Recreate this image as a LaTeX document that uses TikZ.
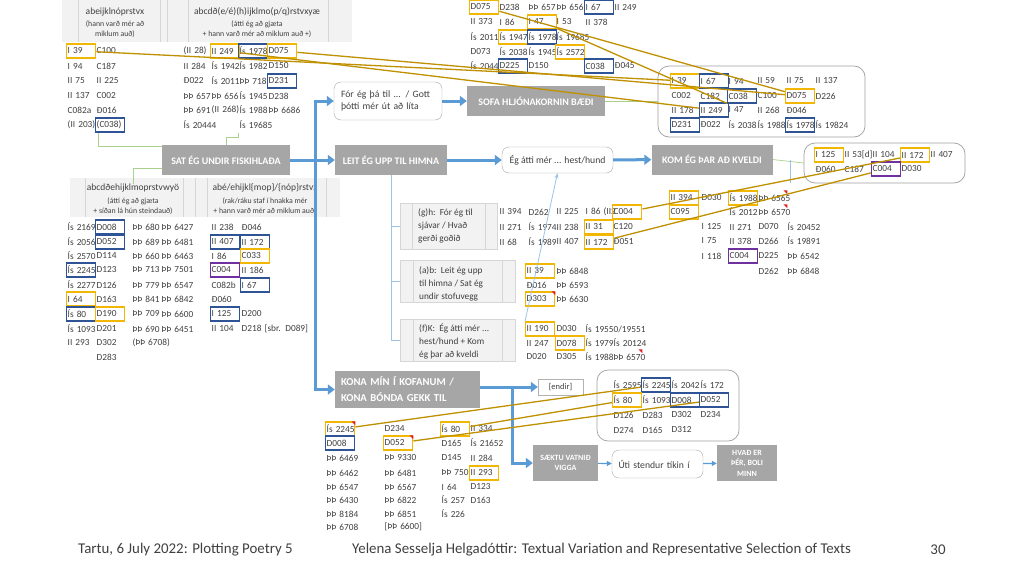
\documentclass[tikz,border=0pt]{standalone}
\usepackage{fontspec}
\setmainfont{Carlito}
\usetikzlibrary{arrows.meta,backgrounds}
\definecolor{txt}{HTML}{404040}
\definecolor{panelfill}{HTML}{F2F2F2}
\definecolor{panelline}{HTML}{D6D6D6}
\definecolor{boxgray}{HTML}{A6A6A6}
\definecolor{goldframe}{HTML}{F2B705}
\definecolor{goldline}{HTML}{BF9000}
\definecolor{navyframe}{HTML}{2F5496}
\definecolor{purpframe}{HTML}{7030A0}
\definecolor{flowblue}{HTML}{5B9BD5}
\definecolor{paleblue}{HTML}{9DC3E6}
\definecolor{palegreen}{HTML}{A9D18E}
\definecolor{markred}{HTML}{E02020}
\newcommand{\cellfont}{\fontsize{9.3}{11}\selectfont}
\newcommand{\datarow}[3]{\foreach \cx/\cs/\ct [count=\ci] in {#3}{\node[cell,\cs] (#1-\ci) at (\cx-2,#2) {\mbox{\ct}};}}
\newcommand{\redmark}[1]{\fill[markred] (#1.north east) -- ++(-4pt,0pt) -- ++(4pt,-4pt) -- cycle;}
\tikzset{
  cell/.style={anchor=west, text width=27pt, align=left, inner xsep=1pt, inner ysep=0pt, minimum height=14pt, font=\cellfont, text=txt, line width=1.4pt},
  cn/.style={}, cg/.style={draw=goldframe}, cb/.style={draw=navyframe}, cp/.style={draw=purpframe},
  flowbox/.style={fill=boxgray, text=white, font=\bfseries\fontsize{10}{12}\selectfont, align=center, inner sep=0pt},
  smallflow/.style={flowbox, font=\bfseries\fontsize{8}{10.5}\selectfont},
  roundbox/.style={draw=gray!70, rounded corners=7pt, fill=white, text=txt, font=\fontsize{9.7}{12}\selectfont, align=left, inner sep=0pt},
  container/.style={draw=gray!75, rounded corners=11pt, line width=0.7pt},
  panelbox/.style={fill=panelfill, draw=panelline, line width=0.6pt},
  panelrule/.style={draw=panelline, line width=0.6pt},
  paneltext/.style={anchor=west, align=left, text=txt, font=\fontsize{9.3}{13}\selectfont, inner sep=0pt},
  hdtitle/.style={text=txt, font=\fontsize{9.5}{11}\selectfont, inner sep=0pt},
  hdsub/.style={text=txt, font=\fontsize{7.8}{9.5}\selectfont, align=center, inner sep=0pt},
  barrow/.style={draw=flowblue, line width=3pt, -{Triangle[length=7pt,width=10pt]}},
  tarrow/.style={draw=flowblue, line width=1.2pt, -{Triangle[length=5pt,width=5pt]}},
  lline/.style={draw=paleblue, line width=0.8pt},
  gline/.style={draw=palegreen, line width=0.7pt},
  goldlink/.style={draw=goldline, line width=1.3pt},
  foot/.style={text=txt, font=\fontsize{14.9}{17}\selectfont, inner sep=0pt}
}
\begin{document}
\begin{tikzpicture}[x=1pt, y=-1pt]
\useasboundingbox (0,0) rectangle (1024,576);
\begin{scope}[on background layer]
\fill[white] (0,0) rectangle (1024,576);
\fill[panelfill] (62,0) rectangle (352,42);
\foreach \px in {78,160,167,188,328} \draw[panelrule] (\px,0) -- (\px,42);
\fill[panelfill] (70,178) rectangle (340,217);
\foreach \px in {85,183,195,207,326} \draw[panelrule] (\px,178) -- (\px,217);
\end{scope}

% table headers
\node[hdtitle] (th1) at (115,12) {abeijklnóprstvx};
\node[hdsub] (ts1) at (115,29) {(hann varð mér að\\miklum auð)};
\node[hdtitle] (th2) at (257,12) {abcdð(e/é)(h)ijklmo(p/q)rstvxyæ};
\node[hdsub] (ts2) at (257,29) {(átti ég að gjæta\\+ hann varð mér að miklum auð +)};
\node[hdtitle] (lh1) at (133,188) {abcdðehijklmoprstvwyö};
\node[hdsub] (ls1) at (133,206) {(átti ég að gjæta\\+ síðan lá hún steindauð)};
\node[hdtitle] (lh2) at (265,188) {abé/ehijkl\{mop\}/\{nóp\}rstvx};
\node[hdsub] (ls2) at (265,206) {(rak/ráku staf í hnakka mér\\+ hann varð mér að miklum auð)};

% top left
\datarow{tla1}{51}{68/cg/I 39, 97/cn/C100}
\datarow{tla2}{66}{68/cn/I 94, 97/cn/C187}
\datarow{tla3}{81}{68/cn/II 75, 97/cn/II 225}
\datarow{tla4}{96}{68/cn/II 137, 97/cn/C002}
\datarow{tla5}{110}{68/cn/C082a, 97/cn/Ð016}
\datarow{tla6}{125}{68/cn/(II 203), 97/cb/(C038)}
\datarow{tlb1}{51}{184/cn/(II 28), 212/cg/II 249, 240/cb/Ís 1978, 269/cg/D075}
\datarow{tlb2}{66}{184/cn/II 284, 212/cn/Ís 1942, 240/cn/Ís 1982, 269/cn/D150}
\datarow{tlb3}{81}{184/cn/Ð022, 212/cn/Ís 2011, 240/cn/ÞÞ 718, 269/cb/D231}
\datarow{tlb4}{96}{184/cn/ÞÞ 657, 212/cn/ÞÞ 656, 240/cn/Ís 1945, 269/cn/D238}
\datarow{tlb5}{110}{184/cn/ÞÞ 691, 212/cn/(II 268), 240/cn/Ís 1988, 269/cn/ÞÞ 6686}
\datarow{tlb6}{125}{184/cn/Ís 20444, 240/cn/Ís 19685}

% top
\datarow{tc1}{7}{471/cg/D075, 500/cn/D238, 529/cn/ÞÞ 657, 557/cn/ÞÞ 656, 586/cb/I 67, 615/cn/II 249}
\datarow{tc2}{22}{471/cn/II 373, 500/cn/I 86, 529/cg/I 47, 557/cn/I 53, 586/cn/II 378}
\datarow{tc3}{37}{471/cn/Ís 2011, 500/cg/Ís 1947, 529/cb/Ís 1978, 557/cn/Ís 19685}
\datarow{tc4}{52}{471/cn/D073, 500/cn/Ís 2038, 529/cn/Ís 1945, 557/cg/Ís 2572}
\datarow{tc5}{66}{471/cn/Ís 2044, 500/cb/D225, 529/cn/D150, 586/cb/C038, 615/cn/Ð045}

% top right box
\node[container, minimum width=207pt, minimum height=71pt] (topbox) at (761.5,101.5) {};
\datarow{tbx1}{81}{672/cg/I 39, 701/cb/I 67, 729/cn/I 94, 758/cn/II 59, 787/cn/II 75, 816/cn/II 137}
\datarow{tbx2}{96}{672/cn/C002, 701/cn/C182, 729/cb/C038, 758/cn/C100, 787/cg/D075, 816/cn/D226}
\datarow{tbx3}{110}{672/cn/II 178, 701/cb/II 249, 729/cn/I 47, 758/cn/II 268, 787/cn/Ð046}
\datarow{tbx4}{125}{672/cb/D231, 701/cn/Ð022, 729/cn/Ís 2038, 758/cn/Ís 1988, 787/cb/Ís 1978, 816/cn/Ís 19824}

% flow boxes
\node[flowbox, minimum width=128pt, minimum height=30pt] (sat) at (226,160) {SAT ÉG UNDIR FISKIHLAÐA};
\node[flowbox, minimum width=112pt, minimum height=30pt] (leit) at (391,160) {LEIT ÉG UPP TIL HIMNA};
\node[roundbox, minimum width=111pt, minimum height=26pt, align=center] (egatti) at (557.5,160) {Ég átti mér ... hest/hund};
\node[flowbox, minimum width=121pt, minimum height=30pt] (kom) at (712,159.5) {KOM ÉG ÞAR AÐ KVELDI};
\node[roundbox, minimum width=108pt, minimum height=38pt, text width=94pt] (forbox) at (388,101) {Fór ég þá til ... / Gott\\þótti mér út að líta};
\node[flowbox, minimum width=138pt, minimum height=30pt] (sofa) at (536,101) {SOFA HLJÓNAKORNIN BÆÐI};
\node[flowbox, minimum width=145pt, minimum height=37pt, text width=133pt, align=left, font=\bfseries\fontsize{10.6}{16}\selectfont] (kona) at (407.5,389.5) {KONA MÍN Í KOFANUM /\\KONA BÓNDA GEKK TIL};
\node[draw=gray!60, fill=white, text=txt, font=\fontsize{8.5}{10}\selectfont, minimum width=45pt, minimum height=16pt, inner sep=0pt] (endir) at (560.5,387) {[endir]};
\node[smallflow, minimum width=65pt, minimum height=36pt] (saektu) at (565.5,463) {SÆKTU VATNIÐ\\VIGGA};
\node[roundbox, minimum width=91pt, minimum height=28pt, text width=78pt] (uti) at (657.5,464) {Úti stendur tíkin í};
\node[smallflow, minimum width=60pt, minimum height=36pt] (hvad) at (747,463) {HVAÐ ER\\ÞÉR, BOLI\\MINN};

% variant panels
\node[panelbox, minimum width=97pt, minimum height=46pt] (ghbox) at (448.5,226) {};
\draw[panelrule] (412,203) -- (412,249) (485,203) -- (485,249);
\node[paneltext] (ghtext) at (418,226) {(g)h:\ \ Fór ég til\\sjávar / Hvað\\gerði goðið};
\node[panelbox, minimum width=115pt, minimum height=42pt] (abbox) at (457.5,281) {};
\draw[panelrule] (413,260) -- (413,302) (502,260) -- (502,302);
\node[paneltext] (abtext) at (419,284) {(a)b:\ \ Leit ég upp\\til himna / Sat ég\\undir stofuvegg};
\node[panelbox, minimum width=115pt, minimum height=42pt] (fkbox) at (457.5,340) {};
\draw[panelrule] (413,319) -- (413,361) (502,319) -- (502,361);
\node[paneltext] (fktext) at (419,341) {(f)K:\ \ Ég átti mér ...\\hest/hund + Kom\\ég þar að kveldi};

\datarow{gh1}{212}{500/cn/II 394, 529/cn/D262, 557/cn/II 225, 586/cn/I 86 (II2, 614/cg/C004}
\datarow{gh2}{227}{500/cn/II 271, 529/cn/Ís 1974, 557/cn/II 238, 586/cg/II 31, 614/cn/C120}
\datarow{gh3}{242}{500/cn/II 68, 529/cn/Ís 1989, 557/cn/II 407, 586/cg/II 172, 614/cn/Ð051}
\datarow{ab1}{271}{527/cg/II 39, 557/cn/ÞÞ 6848}
\datarow{ab2}{285}{527/cn/Ð016, 557/cn/ÞÞ 6593}
\datarow{ab3}{299}{527/cg/D303, 557/cn/ÞÞ 6630}
\datarow{fk1}{329}{527/cg/II 190, 557/cn/D030, 586/cn/{Ís 19550/19551}}
\datarow{fk2}{343}{527/cn/II 247, 557/cg/D078, 586/cn/Ís 1979, 614/cn/Ís 20124}
\datarow{fk3}{357}{527/cn/D020, 557/cn/D305, 586/cn/Ís 1988, 614/cn/ÞÞ 6570}

% right of kom
\datarow{km1}{198}{671/cg/II 394, 702/cn/D030, 730/cg/Ís 1988, 759/cn/ÞÞ 6565}
\datarow{km2}{212}{671/cg/C095, 730/cn/Ís 2012, 759/cn/ÞÞ 6570}
\datarow{km3}{227}{702/cn/I 125, 730/cn/II 271, 759/cn/D070, 788/cn/Ís 20452}
\datarow{km4}{241}{702/cn/I 75, 730/cn/II 378, 759/cn/D266, 788/cn/Ís 19891}
\datarow{km5}{256}{702/cn/I 118, 730/cp/C004, 759/cn/D225, 788/cn/ÞÞ 6542}
\datarow{km6}{271}{759/cn/D262, 788/cn/ÞÞ 6848}
\node[container, minimum width=161pt, minimum height=40pt] (rbox) at (884.5,163) {};
\datarow{rb1}{155}{816/cg/I 125, 845/cn/II 53[d], 873/cn/II 104, 902/cg/II 172, 931/cn/II 407}
\datarow{rb2}{169}{816/cn/Ð060, 845/cn/C187, 873/cp/C004, 902/cn/D030}

% lower left
\datarow{lla1}{227}{68/cn/Ís 2169, 97/cb/D008, 133/cn/ÞÞ 680, 162/cn/ÞÞ 6427}
\datarow{lla2}{242}{68/cn/Ís 2056, 97/cb/D052, 133/cn/ÞÞ 689, 162/cn/ÞÞ 6481}
\datarow{lla3}{256}{68/cn/Ís 2570, 97/cn/D114, 133/cn/ÞÞ 660, 162/cn/ÞÞ 6463}
\datarow{lla4}{270}{68/cb/Ís 2245, 97/cn/D123, 133/cn/ÞÞ 713, 162/cn/ÞÞ 7501}
\datarow{lla5}{285}{68/cn/Ís 2277, 97/cn/D126, 133/cn/ÞÞ 779, 162/cn/ÞÞ 6547}
\datarow{lla6}{299}{68/cg/I 64, 97/cn/D163, 133/cn/ÞÞ 841, 162/cn/ÞÞ 6842}
\datarow{lla7}{314}{68/cb/Ís 80, 97/cg/D190, 133/cn/ÞÞ 709, 162/cn/ÞÞ 6600}
\datarow{lla8}{329}{68/cn/Ís 1093, 97/cn/D201, 133/cn/ÞÞ 690, 162/cn/ÞÞ 6451}
\datarow{lla9}{343}{68/cn/II 293, 97/cn/D302, 133/cn/(ÞÞ 6708)}
\datarow{lla10}{357}{97/cn/D283}
\datarow{llb1}{227}{212/cn/II 238, 242/cn/Ð046}
\datarow{llb2}{242}{212/cb/II 407, 242/cb/II 172}
\datarow{llb3}{256}{212/cn/I 86, 242/cg/C033}
\datarow{llb4}{270}{212/cp/C004, 242/cn/II 186}
\datarow{llb5}{285}{212/cn/C082b, 242/cb/I 67}
\datarow{llb6}{299}{212/cn/Ð060}
\datarow{llb7}{314}{212/cb/I 125, 242/cn/D200}
\datarow{llb8}{329}{212/cn/II 104, 242/cn/D218 [sbr. D089]}

% under kona
\datarow{kn1}{429}{327/cg/Ís 2245, 385/cn/D234, 442/cg/Ís 80, 471/cn/II 334}
\datarow{kn2}{443}{327/cb/D008, 385/cg/D052, 442/cn/D165, 471/cn/Ís 21652}
\datarow{kn3}{458}{327/cn/ÞÞ 6469, 385/cn/ÞÞ 9330, 442/cn/D145, 471/cn/II 284}
\datarow{kn4}{473}{327/cn/ÞÞ 6462, 385/cn/ÞÞ 6481, 442/cn/ÞÞ 750, 471/cg/II 293}
\datarow{kn5}{487}{327/cn/ÞÞ 6547, 385/cn/ÞÞ 6567, 442/cn/I 64, 471/cn/D123}
\datarow{kn6}{500}{327/cn/ÞÞ 6430, 385/cn/ÞÞ 6822, 442/cn/Ís 257, 471/cn/D163}
\datarow{kn7}{514}{327/cn/ÞÞ 8184, 385/cn/ÞÞ 6851, 442/cn/Ís 226}
\datarow{kn8}{527}{327/cn/ÞÞ 6708, 385/cn/[ÞÞ 6600]}
\node[container, minimum width=142pt, minimum height=71pt] (botbox) at (668,405.5) {};
\datarow{bb1}{385}{614/cn/Ís 2595, 643/cb/Ís 2245, 672/cn/Ís 2042, 701/cn/Ís 172}
\datarow{bb2}{400}{614/cg/Ís 80, 643/cn/Ís 1093, 672/cb/D008, 701/cb/D052}
\datarow{bb3}{415}{614/cn/D126, 643/cn/D283, 672/cn/D302, 701/cn/D234}
\datarow{bb4}{430}{614/cn/D274, 643/cn/D165, 672/cn/D312}

% comment marks
\redmark{kn1-1} \redmark{kn2-2} \redmark{ab3-1} \redmark{fk3-4} \redmark{km1-4} \redmark{km2-3}

% thin links
\begin{scope}[on background layer]
\draw[gline] ([xshift=3pt]tla6-2.south west) |- ([yshift=-2pt]sat.north west);
\draw[gline] (tlb6-2.south west) -- ++(0pt,-5pt) -| (sat.north);
\draw[gline] ([yshift=7pt]sat.south west) -| (lh1.north);
\draw[gline] (sofa.east) -- (topbox.west |- sofa.east);
\draw[gline] (kom.east) -- (rbox.west);
\end{scope}
\draw[lline] ([xshift=18pt]kom.east) -- ++(0pt,-23pt);
\draw[lline] (leit.south) |- (ghbox.west);
\draw[lline] (leit.south) |- (abbox.west);
\draw[lline] (leit.south) |- (fkbox.west);
\draw[lline, -{Stealth[length=5pt,width=4pt]}] (fk1-1.north west) -- (egatti.south);

% main flow
\coordinate (trunk) at (315,160);
\coordinate (split) at (512,387);
\draw[barrow] (sat) -- (leit);
\draw[barrow] (trunk) |- (forbox);
\draw[barrow] (trunk) |- (kona);
\draw[barrow] (forbox) -- (sofa);
\draw[barrow] (leit) -- (egatti);
\draw[barrow] (egatti) -- (kom);
\draw[barrow] (kona.east |- endir) -- (endir);
\draw[barrow] (split) |- (saektu);
\draw[tarrow] (saektu) -- (uti);
\draw[tarrow] (uti) -- (hvad);

% shared readings
\draw[goldlink] (tla1-1) -- (tbx1-1);
\draw[goldlink] (tlb1-4) -- (tbx2-5);
\draw[goldlink] (tlb1-2) -- (tbx3-2);
\draw[goldlink] (tc1-1) -- (tbx2-5);
\draw[goldlink] (tc2-3) -- (tbx3-3);
\draw[goldlink] (gh1-5) -- (rb1-4);
\draw[goldlink] (gh3-4) -- (rb2-3);
\draw[goldlink] (kn1-1) -- (bb1-2);
\draw[goldlink] (kn1-3) -- (bb2-1);
\draw[goldlink] (kn2-2) -- (bb2-4);

% footer
\node[foot, anchor=west] (foot1) at (78,550) {Tartu, 6 July 2022: Plotting Poetry 5};
\node[foot, anchor=west] (foot2) at (352,550) {Yelena Sesselja Helgadóttir: Textual Variation and Representative Selection of Texts};
\node[foot] (foot3) at (938,550) {30};
\end{tikzpicture}
\end{document}
